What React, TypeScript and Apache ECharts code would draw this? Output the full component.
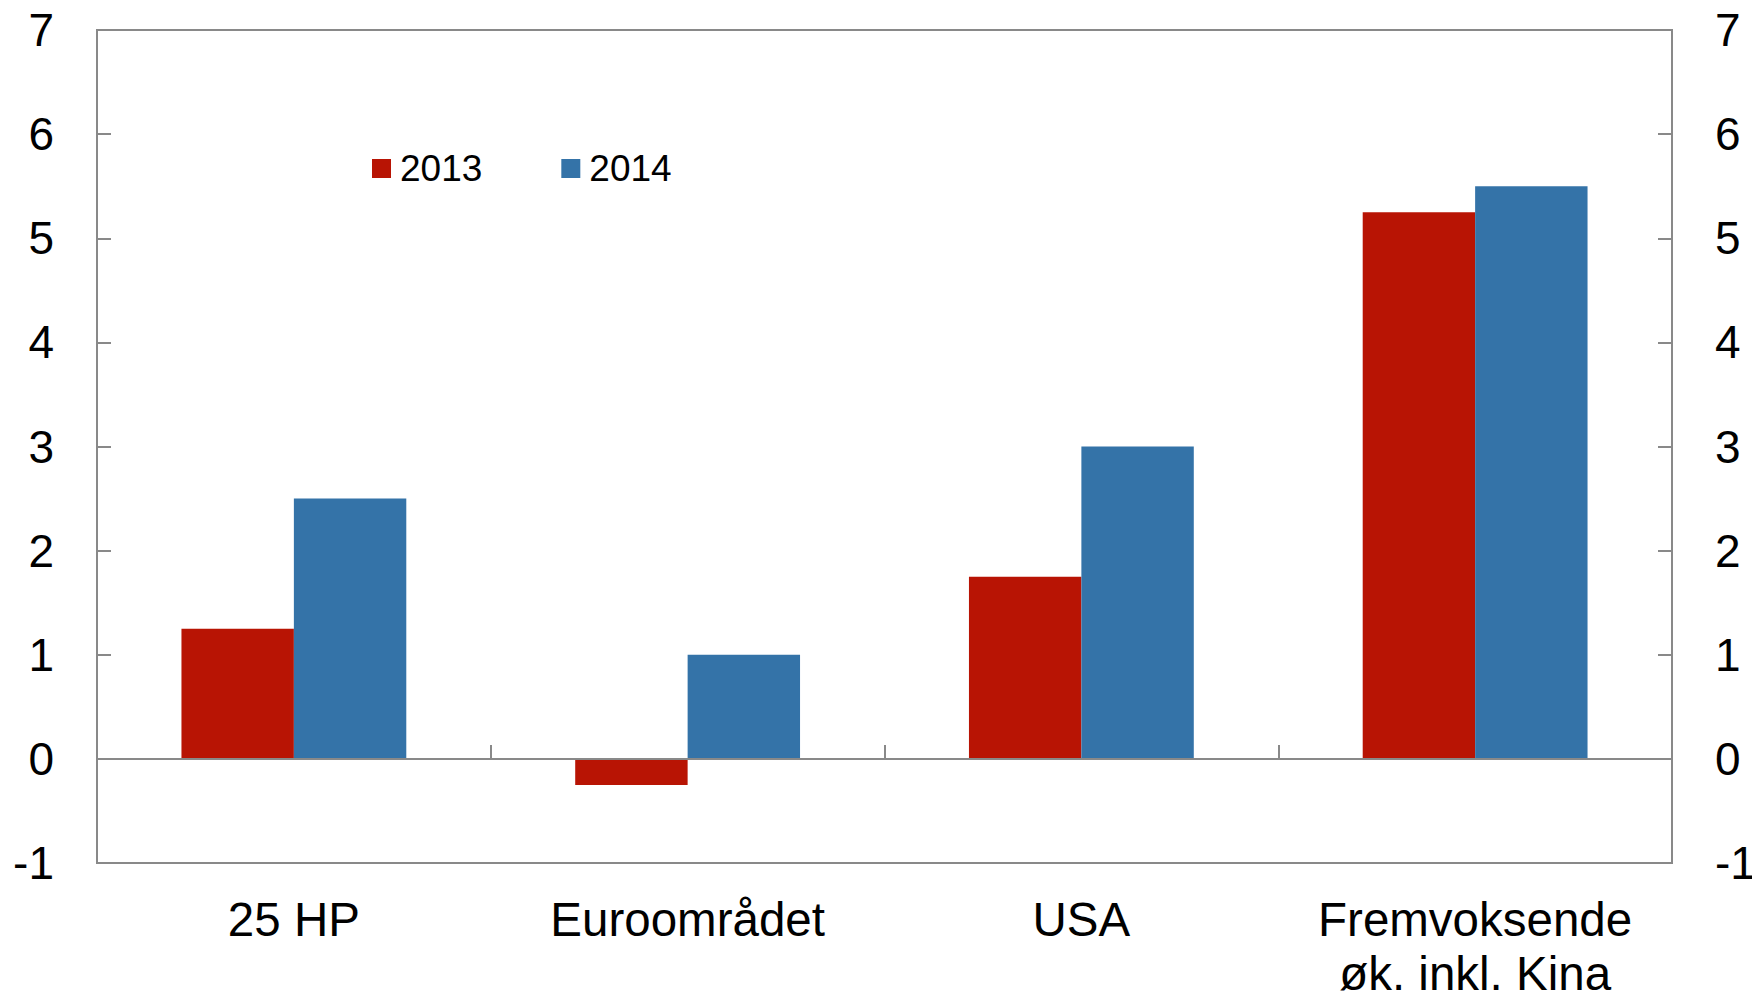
import React, { useEffect, useRef } from "react";
import * as echarts from "echarts";

const categories = ["25 HP", "Euroområdet", "USA", "Fremvoksende\nøk. inkl. Kina"];
const seriesNames = ["2013", "2014"];
const values2013 = [1.25, -0.25, 1.75, 5.25];
const values2014 = [2.5, 1.0, 3.0, 5.5];
const colors = ["#B81404", "#3473A8"];

const AXIS_GRAY = "#898989";
const FONT = "'Liberation Sans', Arial, sans-serif";

export default function App() {
  const ref = useRef<HTMLDivElement>(null);
  useEffect(() => {
    if (!ref.current) return;
    const chart = echarts.init(ref.current, null, { renderer: "svg" });
    chart.setOption({
      animation: false,
      textStyle: { fontFamily: FONT },
      grid: {
        left: 97,
        top: 30,
        right: 80,
        bottom: 136,
        show: true,
        borderColor: AXIS_GRAY,
        borderWidth: 2,
        containLabel: false,
        outerBoundsMode: "none",
      },
      legend: {
        left: 372,
        top: 150,
        padding: 0,
        itemWidth: 19,
        itemHeight: 19,
        itemGap: 79,
        icon: "rect",
        data: seriesNames,
        textStyle: {
          fontFamily: FONT,
          fontSize: 37,
          lineHeight: 37,
          color: "#000",
          padding: [0, 0, 0, 4],
        },
      },
      xAxis: [
        {
          type: "category",
          data: categories,
          position: "bottom",
          axisLine: { onZero: true, lineStyle: { color: AXIS_GRAY, width: 2 } },
          axisTick: { show: true, inside: true, length: 14, lineStyle: { color: AXIS_GRAY, width: 2 } },
          axisLabel: { show: false },
          splitLine: { show: false },
          z: 5,
        },
        {
          type: "category",
          data: categories,
          position: "bottom",
          axisLine: { show: false, onZero: false },
          axisTick: { show: false },
          splitLine: { show: false },
          axisLabel: {
            show: true,
            interval: 0,
            fontFamily: FONT,
            fontSize: 47.5,
            lineHeight: 54,
            margin: 29,
            color: "#000",
          },
        },
      ],
      yAxis: [
        {
          type: "value",
          position: "left",
          min: -1,
          max: 7,
          interval: 1,
          splitLine: { show: false },
          axisLine: { show: true, lineStyle: { color: AXIS_GRAY, width: 2 } },
          axisTick: { show: true, inside: true, length: 14, lineStyle: { color: AXIS_GRAY, width: 2 } },
          axisLabel: { fontFamily: FONT, fontSize: 46, color: "#000", margin: 43 },
        },
        {
          type: "value",
          position: "right",
          min: -1,
          max: 7,
          interval: 1,
          splitLine: { show: false },
          axisLine: { show: true, lineStyle: { color: AXIS_GRAY, width: 2 } },
          axisTick: { show: true, inside: true, length: 14, lineStyle: { color: AXIS_GRAY, width: 2 } },
          axisLabel: { fontFamily: FONT, fontSize: 46, color: "#000", margin: 43 },
        },
      ],
      series: [
        {
          name: seriesNames[0],
          type: "bar",
          xAxisIndex: 0,
          yAxisIndex: 0,
          data: values2013,
          itemStyle: { color: colors[0] },
          barGap: "0%",
          barCategoryGap: "42.9%",
        },
        {
          name: seriesNames[1],
          type: "bar",
          xAxisIndex: 0,
          yAxisIndex: 0,
          data: values2014,
          itemStyle: { color: colors[1] },
          barGap: "0%",
          barCategoryGap: "42.9%",
        },
      ],
    });
    return () => chart.dispose();
  }, []);
  return (
    <div
      ref={ref}
      style={{ position: "fixed", left: 0, top: 0, width: 1752, height: 999, background: "#fff" }}
    />
  );
}
